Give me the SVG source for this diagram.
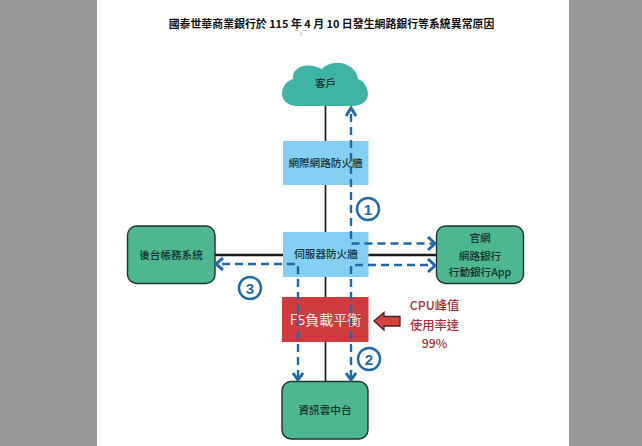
<svg xmlns="http://www.w3.org/2000/svg" width="642" height="446" viewBox="0 0 642 446">
<style>
text{font-family:"Noto Sans CJK TC","Liberation Sans",sans-serif;text-anchor:middle;fill:#12302f}
.green{fill:#4fb790;stroke:#1c3330;stroke-width:1.4}
.blue{fill:#85cff2}
.solid{stroke:#1a1a1a;stroke-width:1.700;fill:none}
.thick{stroke-width:2.600}
.dash{stroke:#1f69a8;stroke-width:2.400;fill:none;stroke-dasharray:8 5}
.head{stroke:#1f69a8;stroke-width:3;fill:none}
.num{fill:#fff;stroke:#1f69a8;stroke-width:2.400}
.numt{fill:#1f69a8;font-family:"Liberation Sans",sans-serif;font-weight:700;font-size:15px}
.lab{font-size:10.600px;font-weight:500}
.cpu{fill:#a5303a;font-size:12.300px;font-weight:500}
</style>
<rect width="642" height="446" fill="#999"/>
<rect x="97" width="472" height="446" fill="#fff"/>
<text x="331.500" y="28" style="font-family:'Noto Sans CJK TC','Liberation Serif',serif;font-size:10.900px;fill:#111;font-weight:700">國泰世華商業銀行於 115 年 4 月 10 日發生網路銀行等系統異常原因</text>
<path d="M295 30.500H299M303 30.500H307M301 32V36" stroke="#999" stroke-width="0.700" fill="none"/>
<g id="connectors">
<path class="solid" d="M325.500 106V141M325.500 185V232M325.500 277V297M325.500 342V381"/>
<path class="solid thick" d="M215 255H283M368 255H436"/>
</g>
<g id="cloud"><path d="M297 106C288 106 282 100 282 94C282 87 286 81 293 79C292 71 299 65 309 65.500C314 66 318 67 322 69C326 64 333 62.500 340 63C349 64 357 70 358 79C364 81 368 88 368 94C368 101 361 106 353 106Z" fill="#3fb4a4"/><text class="lab" x="325.500" y="87">客戶</text></g>
<g id="perimeter-firewall"><rect class="blue" x="283" y="141" width="85.500" height="44"/><text class="lab" x="325.500" y="167">網際網路防火牆</text></g>
<g id="server-firewall"><rect class="blue" x="283" y="232" width="85.500" height="45"/><text class="lab" x="326" y="258">伺服器防火牆</text></g>
<g id="backend"><rect class="green" x="127.500" y="226" width="87.500" height="57.500" rx="9"/><text class="lab" x="171" y="259">後台帳務系統</text></g>
<g id="web"><rect class="green" x="436.500" y="226" width="87" height="57.500" rx="9"/><text class="lab" x="480" y="242">官網</text><text class="lab" x="480" y="260">網路銀行</text><text class="lab" x="480" y="276">行動銀行App</text></g>
<g id="f5"><rect x="282" y="297" width="86.500" height="45" fill="#cf3a3f"/><text x="325.500" y="325" style="fill:#f6e9e4;font-size:14px">F5負載平衡</text></g>
<g id="cloud-platform"><rect class="green" x="282" y="381.500" width="86" height="57.500" rx="9"/><text class="lab" x="325" y="414">資訊雲中台</text></g>
<g id="flows">
<path class="dash" d="M351 114V243.500H434"/>
<path class="head" d="M346 116L351 108L356 116M428 237L435 243.500L428 250"/>
<path class="dash" d="M351 378V265H434"/>
<path class="head" d="M346 373L351 380L356 373M428 259L435 265.500L428 272"/>
<path class="dash" d="M298 378V264H218"/>
<path class="head" d="M293 373L298 380L303 373M223 258L216 264L223 270"/>
</g>
<g id="badge-1"><circle class="num" cx="368" cy="209" r="11"/><text class="numt" x="368" y="214.500">1</text></g>
<g id="badge-2"><circle class="num" cx="369" cy="359" r="11"/><text class="numt" x="369" y="364.500">2</text></g>
<g id="badge-3"><circle class="num" cx="250" cy="288" r="11"/><text class="numt" x="250" y="293.500">3</text></g>
<g id="cpu-note">
<path d="M374 321L384 312.500V316.500H400V326H384V330Z" fill="#d8413f" stroke="#4a2326" stroke-width="1.300"/>
<text class="cpu" x="434.500" y="309.500">CPU峰值</text><text class="cpu" x="434.500" y="329.500">使用率達</text><text class="cpu" x="434.500" y="347.500">99%</text>
</g>
</svg>
